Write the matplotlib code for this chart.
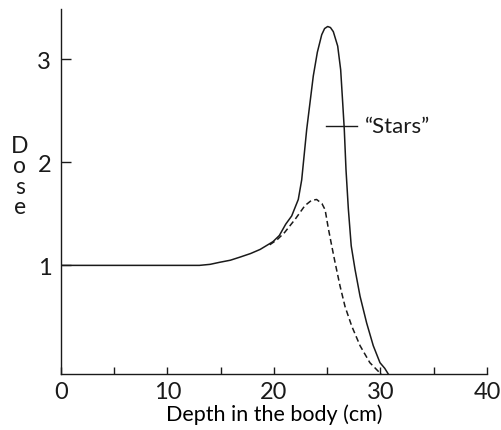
import matplotlib
matplotlib.use("Agg")
import matplotlib.pyplot as plt
from matplotlib.ticker import MultipleLocator

# %% Data
depth_stars = [0, 5, 10, 13, 14.0, 14.9, 15.9, 16.8, 17.8, 18.7, 19.9, 20.5, 21.1,
               21.66, 22.28, 22.6, 22.85, 23.07, 23.38, 23.69, 24.07, 24.48,
               24.75, 25.04, 25.3, 25.57, 25.98, 26.26, 26.45, 26.6, 26.76,
               26.98, 27.25, 27.61, 28.08, 28.7, 29.32, 29.95, 30.4, 30.73]
dose_stars = [1.0, 1.0, 1.0, 1.0, 1.01, 1.03, 1.05, 1.08, 1.115, 1.155, 1.23, 1.29, 1.40,
              1.48, 1.64, 1.83, 2.09, 2.32, 2.58, 2.84, 3.07, 3.24,
              3.30, 3.32, 3.31, 3.27, 3.13, 2.90, 2.58, 2.32, 1.93,
              1.55, 1.19, 0.96, 0.70, 0.44, 0.22, 0.055, 0.0, -0.055]

depth_other = [19.6, 20.3, 21.0, 22.0, 22.9, 23.5, 24.0, 24.5, 24.8, 25.1,
               25.42, 25.73, 26.2, 26.67, 27.3, 28.08, 29.0, 29.9, 30.1]
dose_other = [1.20, 1.25, 1.32, 1.45, 1.58, 1.63, 1.64, 1.60, 1.54, 1.36,
              1.19, 1.03, 0.80, 0.60, 0.41, 0.22, 0.055, -0.04, -0.055]

x_ticks = [0, 10, 20, 30, 40]
y_ticks = [1, 2, 3]

INK = "#1a1a1a"
FONT = ["Lato", "DejaVu Sans"]

plt.rcParams.update(
    {
        "font.family": FONT,
        "font.size": 15,
        "axes.spines.right": False,
        "axes.spines.top": False,
        "axes.edgecolor": INK,
        "axes.linewidth": 1.0,
        "xtick.color": INK,
        "ytick.color": INK,
        "lines.solid_joinstyle": "round",
        "lines.dash_joinstyle": "round",
    }
)

fig = plt.figure(figsize=(5.02, 4.31), dpi=100)
ax = fig.add_axes([61 / 502, 1 - 375 / 431, (487 - 61) / 502, (375 - 10) / 431])

ax.plot(depth_stars, dose_stars, color=INK, lw=1.1)
ax.plot(depth_other, dose_other, color=INK, lw=1.1, linestyle=(0, (3.8, 2.2)))

# label line for the "Stars" curve
ax.plot([24.88, 27.8], [2.35, 2.35], color=INK, lw=1.0)
ax.text(28.5, 2.35, "\u201cStars\u201d", ha="left", va="center", fontsize=16, color=INK)

ax.set_xlim(0, 40)
ax.set_ylim(-0.055, 3.49)
ax.set_xticks(x_ticks)
ax.xaxis.set_minor_locator(MultipleLocator(5))
ax.set_yticks(y_ticks)
ax.tick_params(axis="x", which="both", direction="in", length=5, width=1.0, pad=5)
ax.tick_params(axis="y", direction="in", length=7, width=1.0, pad=7)
ax.tick_params(labelsize=17)

ax.set_xlabel("Depth in the body (cm)", fontsize=15.5, labelpad=1)
fig.text(20 / 502, 1 - 177 / 431, "D\no\ns\ne", ha="center", va="center",
         fontsize=16.5, linespacing=0.95, color=INK)

fig.savefig("out.png", dpi=100)
